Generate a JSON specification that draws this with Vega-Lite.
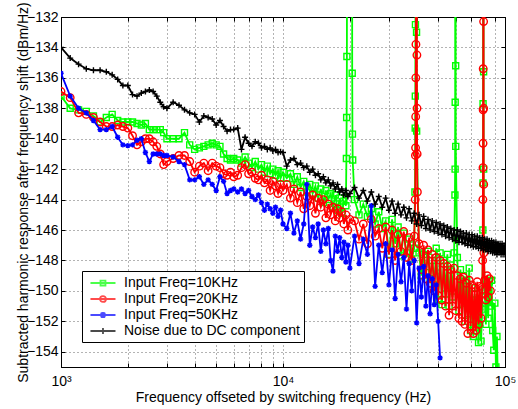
{
  "$schema": "https://vega.github.io/schema/vega-lite/v6.json",
  "width": 444,
  "height": 350,
  "autosize": {"type": "none"},
  "padding": {"left": 61, "top": 17, "right": 13, "bottom": 42},
  "background": "white",
  "config": {
    "font": "Liberation Sans",
    "view": {"stroke": "black", "strokeWidth": 1},
    "axis": {
      "labelFont": "Liberation Sans", "labelFontSize": 14, "labelColor": "black",
      "titleFont": "Liberation Sans", "titleFontSize": 14, "titleFontWeight": "normal", "titleColor": "black",
      "domainColor": "black", "tickColor": "black", "tickWidth": 1,
      "gridColor": "#666", "gridDash": [1, 3], "gridOpacity": 1, "gridWidth": 1
    }
  },
  "data": {
    "values": [
      {"f":1000,"g":-137.2,"r":-136.9,"b":-135.7,"k":-134.0},
      {"f":1100,"g":-138.0,"r":-137.3,"b":-137.2,"k":-134.7},
      {"f":1200,"g":-138.1,"r":-138.3,"b":-138.0,"k":-135.1},
      {"f":1300,"g":-138.2,"r":-138.4,"b":-138.3,"k":-135.4},
      {"f":1400,"g":-138.5,"r":-138.6,"b":-138.8,"k":-135.5},
      {"f":1500,"g":-138.9,"r":-138.9,"b":-139.4,"k":-135.5},
      {"f":1600,"g":-138.6,"r":-139.2,"b":-139.4,"k":-135.6},
      {"f":1700,"g":-138.4,"r":-139.2,"b":-139.2,"k":-135.8},
      {"f":1800,"g":-138.8,"r":-139.1,"b":-139.9,"k":-136.1},
      {"f":1900,"g":-138.9,"r":-139.2,"b":-140.4,"k":-136.5},
      {"f":2000,"g":-138.9,"r":-139.3,"b":-140.45,"k":-136.5},
      {"f":2100,"g":-138.9,"r":-139.8,"b":-140.4,"k":-137.1},
      {"f":2200,"g":-139.0,"r":-140.4,"b":-140.1,"k":-137.2},
      {"f":2300,"g":-139.1,"r":-140.2,"b":-140.0,"k":-137.0},
      {"f":2400,"g":-139.0,"r":-140.0,"b":-140.9,"k":-136.9},
      {"f":2500,"g":-139.4,"r":-140.0,"b":-141.5,"k":-136.8},
      {"f":2600,"g":-139.4,"r":-140.2,"b":-141.0,"k":-136.9},
      {"f":2700,"g":-139.4,"r":-140.5,"b":-141.0,"k":-137.2},
      {"f":2800,"g":-139.4,"r":-141.0,"b":-141.0,"k":-137.6},
      {"f":2900,"g":-139.6,"r":-141.7,"b":-141.1,"k":-137.9},
      {"f":3000,"g":-140.0,"r":-141.5,"b":-141.1,"k":-138.0},
      {"f":3200,"g":-140.0,"r":-141.3,"b":-141.2,"k":-137.6},
      {"f":3400,"g":-140.0,"r":-141.1,"b":-141.5,"k":-137.8},
      {"f":3600,"g":-139.6,"r":-141.1,"b":-141.7,"k":-138.1},
      {"f":3800,"g":-140.4,"r":-141.5,"b":-142.7,"k":-138.3},
      {"f":4000,"g":-140.7,"r":-142.2,"b":-142.7,"k":-138.4},
      {"f":4200,"g":-140.6,"r":-141.8,"b":-142.5,"k":-138.9},
      {"f":4400,"g":-140.5,"r":-141.6,"b":-143.0,"k":-138.5},
      {"f":4600,"g":-140.4,"r":-142.1,"b":-142.7,"k":-138.6},
      {"f":4800,"g":-140.3,"r":-141.6,"b":-143.0,"k":-138.7},
      {"f":5000,"g":-140.4,"r":-141.8,"b":-143.4,"k":-139.1},
      {"f":5200,"g":-140.5,"r":-141.9,"b":-142.5,"k":-138.8},
      {"f":5400,"g":-141.0,"r":-142.3,"b":-142.8,"k":-139.2},
      {"f":5600,"g":-141.3,"r":-142.4,"b":-143.6,"k":-139.5},
      {"f":5800,"g":-141.4,"r":-142.2,"b":-143.4,"k":-139.4},
      {"f":6000,"g":-141.3,"r":-142.5,"b":-143.3,"k":-139.4},
      {"f":6250,"g":-141.4,"r":-142.4,"b":-143.5,"k":-139.3},
      {"f":6500,"g":-141.6,"r":-141.9,"b":-143.3,"k":-140.7},
      {"f":6750,"g":-141.2,"r":-141.7,"b":-143.6,"k":-139.9},
      {"f":7000,"g":-141.6,"r":-142.3,"b":-143.4,"k":-140.3},
      {"f":7250,"g":-141.9,"r":-142.2,"b":-143.8,"k":-140.5},
      {"f":7500,"g":-141.5,"r":-142.6,"b":-144.0,"k":-140.2},
      {"f":7750,"g":-142.0,"r":-142.7,"b":-143.7,"k":-140.3},
      {"f":8000,"g":-141.7,"r":-142.4,"b":-144.2,"k":-140.6},
      {"f":8250,"g":-142.2,"r":-142.9,"b":-144.7,"k":-140.5},
      {"f":8500,"g":-141.8,"r":-142.7,"b":-144.3,"k":-140.7},
      {"f":8750,"g":-142.3,"r":-143.4,"b":-144.6,"k":-140.6},
      {"f":9000,"g":-142.0,"r":-142.8,"b":-144.9,"k":-140.8},
      {"f":9250,"g":-142.4,"r":-143.1,"b":-144.5,"k":-140.7},
      {"f":9500,"g":-142.1,"r":-143.6,"b":-145.1,"k":-140.9},
      {"f":9750,"g":-142.6,"r":-143.0,"b":-144.7,"k":-140.85},
      {"f":10000,"g":-142.2,"r":-143.4,"b":-145.6,"k":-140.9},
      {"f":10400,"g":-142.6,"r":-143.0,"b":-145.9,"k":-141.8},
      {"f":10800,"g":-142.3,"r":-143.9,"b":-144.9,"k":-141.4},
      {"f":11200,"g":-143.0,"r":-143.3,"b":-146.2,"k":-141.3},
      {"f":11600,"g":-142.5,"r":-144.2,"b":-145.4,"k":-141.7},
      {"f":12000,"g":-143.2,"r":-143.5,"b":-146.6,"k":-141.6},
      {"f":12400,"g":-142.8,"r":-144.6,"b":-145.6,"k":-141.9},
      {"f":12800,"g":-143.5,"r":-143.8,"b":-143.0,"k":-141.8},
      {"f":13200,"g":-143.0,"r":-144.4,"b":-147.0,"k":-142.2},
      {"f":13600,"g":-143.6,"r":-143.7,"b":-145.8,"k":-142.0},
      {"f":14000,"g":-143.1,"r":-144.9,"b":-146.5,"k":-142.4},
      {"f":14400,"g":-143.9,"r":-143.9,"b":-145.6,"k":-142.3},
      {"f":14800,"g":-143.3,"r":-144.5,"b":-147.4,"k":-142.7},
      {"f":15200,"g":-144.2,"r":-144.0,"b":-146.0,"k":-142.5},
      {"f":15600,"g":-143.4,"r":-145.2,"b":-146.9,"k":-142.9},
      {"f":16000,"g":-144.0,"r":-144.3,"b":-145.9,"k":-142.7},
      {"f":16400,"g":-143.6,"r":-145.0,"b":-148.0,"k":-143.1},
      {"f":16800,"g":-144.5,"r":-144.5,"b":-148.7,"k":-142.9},
      {"f":17200,"g":-143.7,"r":-145.4,"b":-146.4,"k":-143.3},
      {"f":17600,"g":-144.7,"r":-144.6,"b":-147.4,"k":-143.0},
      {"f":18000,"g":-143.9,"r":-145.2,"b":-146.5,"k":-143.5},
      {"f":18400,"g":-144.9,"r":-144.8,"b":-147.8,"k":-143.3},
      {"f":18800,"g":-144.1,"r":-145.6,"b":-146.8,"k":-143.7},
      {"f":19200,"g":-144.4,"r":-145.0,"b":-148.1,"k":-143.4},
      {"f":19300,"g":-141.3},
      {"f":19350,"g":-138.6},
      {"f":19400,"g":-134.6},
      {"f":19450,"g":-115},
      {"f":19600,"g":-115,"r":-146.0,"b":-147.0,"k":-143.8},
      {"f":20000,"g":-115,"r":-145.3,"b":-148.5,"k":-143.6},
      {"f":20450,"g":-115},
      {"f":20500,"g":-135.7},
      {"f":20550,"g":-139.7},
      {"f":20600,"g":-141.4},
      {"f":21000,"g":-144.0,"r":-145.4,"b":-146.4,"k":-143.2},
      {"f":22000,"g":-145.0,"r":-146.6,"b":-148.2,"k":-143.9},
      {"f":23000,"g":-144.3,"r":-145.6,"b":-146.6,"k":-143.4},
      {"f":24000,"g":-145.1,"r":-146.9,"b":-147.6,"k":-144.1},
      {"f":25000,"g":-144.6,"r":-145.3,"b":-144.4,"k":-143.5},
      {"f":26000,"g":-145.6,"r":-146.4,"b":-149.7,"k":-144.3},
      {"f":27000,"g":-144.8,"r":-145.9,"b":-147.0,"k":-143.8},
      {"f":28000,"g":-145.9,"r":-147.2,"b":-148.8,"k":-144.5},
      {"f":29000,"g":-145.4,"r":-145.8,"b":-146.9,"k":-143.9},
      {"f":30000,"g":-147.6,"r":-147.6,"b":-149.6,"k":-144.7},
      {"f":31000,"g":-145.3,"r":-146.0,"b":-147.3,"k":-144.1},
      {"f":32000,"g":-146.9,"r":-148.0,"b":-150.5,"k":-144.9},
      {"f":33000,"g":-145.8,"r":-146.3,"b":-147.6,"k":-144.3},
      {"f":34000,"g":-147.7,"r":-147.4,"b":-149.4,"k":-145.0},
      {"f":35000,"g":-146.2,"r":-146.1,"b":-147.8,"k":-144.5},
      {"f":36000,"g":-147.5,"r":-147.8,"b":-151.2,"k":-145.2},
      {"f":37000,"g":-146.6,"r":-146.5,"b":-148.2,"k":-144.6},
      {"f":38000,"g":-147.9,"r":-148.0,"b":-150.0,"k":-145.4},
      {"f":39000,"g":-147.2,"r":-146.4,"b":-148.0,"k":-144.9},
      {"f":39300,"g":-143.5},
      {"f":39400,"g":-139.3,"r":-144.0},
      {"f":39450,"g":-137.2},
      {"f":39500,"g":-132.5,"r":-141.1},
      {"f":39550,"g":-115,"r":-140.6},
      {"f":39600,"r":-138.55},
      {"f":39650,"r":-136.0},
      {"f":39700,"r":-133.8},
      {"f":39750,"r":-115},
      {"f":39900,"g":-115},
      {"f":39950,"g":-133.0},
      {"f":40000,"g":-139.5,"r":-115,"b":-152.1,"k":-145.6},
      {"f":40100,"r":-134.5},
      {"f":40150,"r":-138.0},
      {"f":40200,"r":-141.0},
      {"f":40300,"r":-143.5},
      {"f":41000,"g":-147.5,"r":-146.9,"b":-148.5,"k":-145.0},
      {"f":42000,"g":-149.0,"r":-148.6,"b":-150.4,"k":-145.7},
      {"f":43000,"g":-147.6,"r":-147.0,"b":-148.4,"k":-145.1},
      {"f":44000,"g":-148.8,"r":-149.2,"b":-151.0,"k":-145.9},
      {"f":45000,"g":-147.4,"r":-147.3,"b":-149.0,"k":-145.3},
      {"f":46000,"g":-149.2,"r":-149.5,"b":-151.5,"k":-146.0},
      {"f":47000,"g":-148.0,"r":-147.6,"b":-149.2,"k":-145.4},
      {"f":48000,"g":-149.6,"r":-150.0,"b":-150.9,"k":-146.1},
      {"f":49000,"g":-147.2,"r":-147.8,"b":-149.6,"k":-145.5},
      {"f":50000,"g":-150.6,"r":-150.3,"b":-152.0,"k":-146.2},
      {"f":51000,"g":-147.5,"r":-148.0,"b":-154.4,"k":-145.6},
      {"f":52000,"g":-150.9,"r":-150.6,"k":-146.3},
      {"f":53000,"g":-148.0,"r":-148.2,"k":-145.7},
      {"f":54000,"g":-150.2,"r":-151.0,"k":-146.4},
      {"f":55000,"g":-147.6,"r":-148.4,"k":-145.8},
      {"f":56000,"g":-151.0,"r":-151.6,"k":-146.5},
      {"f":57000,"g":-148.3,"r":-148.6,"k":-145.9},
      {"f":58000,"g":-150.4,"r":-151.0,"k":-146.6},
      {"f":59000,"g":-147.5,"r":-148.5,"k":-146.0},
      {"f":59500,"g":-143.7},
      {"f":59600,"g":-142.0},
      {"f":59650,"g":-137.6},
      {"f":59700,"g":-115},
      {"f":59900,"g":-115},
      {"f":59950,"g":-135.2},
      {"f":60000,"g":-140.5,"r":-151.3,"k":-146.7},
      {"f":61000,"g":-147.8,"r":-149.0,"k":-146.0},
      {"f":62000,"g":-151.3,"r":-151.8,"k":-146.8},
      {"f":63000,"g":-148.6,"r":-149.2,"k":-146.1},
      {"f":64000,"g":-150.8,"r":-152.0,"k":-146.8},
      {"f":65000,"g":-149.0,"r":-149.1,"k":-146.2},
      {"f":66000,"g":-152.0,"r":-152.2,"k":-146.9},
      {"f":67000,"g":-149.3,"r":-149.5,"k":-146.2},
      {"f":68000,"g":-151.5,"r":-152.8,"k":-147.0},
      {"f":69000,"g":-148.5,"r":-149.3,"k":-146.3},
      {"f":70000,"g":-152.6,"r":-152.3,"k":-147.0},
      {"f":71000,"g":-149.8,"r":-149.6,"k":-146.3},
      {"f":72000,"g":-153.0,"r":-152.8,"k":-147.1},
      {"f":73000,"g":-150.2,"r":-149.8,"k":-146.4},
      {"f":74000,"g":-152.4,"r":-152.6,"k":-147.1},
      {"f":75000,"g":-150.6,"r":-149.4,"k":-146.4},
      {"f":76000,"g":-153.4,"r":-152.2,"k":-147.2},
      {"f":77000,"g":-151.0,"r":-149.7,"k":-146.5},
      {"f":78000,"g":-153.3,"r":-151.8,"k":-147.2},
      {"f":79000,"g":-151.2,"r":-149.9,"k":-146.5},
      {"f":79300,"r":-148.0},
      {"f":79500,"g":-146.0,"r":-144.0},
      {"f":79600,"g":-142.9,"r":-141.9},
      {"f":79650,"g":-137.7,"r":-140.3},
      {"f":79700,"g":-115,"r":-138.1},
      {"f":79750,"r":-135.4},
      {"f":79800,"r":-115},
      {"f":80000,"g":-115,"r":-115,"k":-147.3},
      {"f":80100,"g":-135.6,"r":-132.3},
      {"f":80150,"g":-142.0,"r":-138.0},
      {"f":80200,"g":-147.0,"r":-143.0},
      {"f":80300,"r":-147.5},
      {"f":81000,"g":-150.0,"r":-149.3,"k":-146.6},
      {"f":82000,"g":-152.2,"r":-150.6,"k":-147.3},
      {"f":83000,"g":-149.6,"r":-149.0,"k":-146.6},
      {"f":84000,"g":-151.8,"r":-150.4,"k":-147.4},
      {"f":85000,"g":-149.4,"r":-149.2,"k":-146.7},
      {"f":86000,"g":-151.0,"r":-150.0,"k":-147.4},
      {"f":87000,"g":-149.3,"k":-146.7},
      {"f":88000,"g":-152.6,"k":-147.5},
      {"f":89000,"g":-153.9,"k":-146.8},
      {"f":90000,"g":-150.8,"k":-147.5},
      {"f":91000,"g":-155.0,"k":-146.8},
      {"f":92000,"g":-153.0,"k":-147.6},
      {"f":93000,"g":-156.5,"k":-146.9},
      {"f":94000,"k":-147.5},
      {"f":95000,"k":-146.9},
      {"f":96000,"k":-147.6},
      {"f":97000,"k":-146.9},
      {"f":98000,"k":-147.6},
      {"f":99000,"k":-147.0},
      {"f":100000,"k":-147.6}
    ]
  },
  "transform": [
    {"fold": ["g", "r", "b", "k"], "as": ["s", "v"]},
    {"filter": "isValid(datum.v)"}
  ],
  "encoding": {
    "x": {"field": "f", "type": "quantitative", "scale": {"type": "log", "domain": [1000, 100000], "nice": false}, "axis": null},
    "y": {"field": "v", "type": "quantitative", "scale": {"domain": [-155, -132], "nice": false, "zero": false}, "axis": null}
  },
  "layer": [
    {
      "transform": [{"filter": "datum.s == 'g'"}],
      "mark": {"type": "line", "clip": true, "color": "#00ff00", "strokeWidth": 1.8,
        "point": {"filled": false, "color": "#00ff00", "size": 36, "strokeWidth": 1.4, "shape": "M-1,-1H1V1H-1Z"}},
      "encoding": {
        "x": {"field": "f", "type": "quantitative", "scale": {"type": "log", "domain": [1000, 100000], "nice": false},
          "axis": {"orient": "bottom", "title": "Frequency offseted by switching frequency (Hz)",
            "values": [1000,2000,3000,4000,5000,6000,7000,8000,9000,10000,20000,30000,40000,50000,60000,70000,80000,90000,100000],
            "labelExpr": "datum.value == 1000 ? '10³' : datum.value == 10000 ? '10⁴' : datum.value == 100000 ? '10⁵' : ''",
            "grid": true, "tickSize": -4, "labelPadding": 11, "titlePadding": 2, "labelFlush": false}},
        "y": {"field": "v", "type": "quantitative", "scale": {"domain": [-155, -132], "nice": false, "zero": false},
          "axis": {"orient": "left", "title": "Subtracted harmonic response after frequency shift (dBm/Hz)",
            "values": [-154,-152,-150,-148,-146,-144,-142,-140,-138,-136,-134,-132],
            "grid": true, "tickSize": -4, "labelPadding": 7, "titlePadding": -4}}
      }
    },
    {
      "transform": [{"filter": "datum.s == 'r'"}],
      "mark": {"type": "line", "clip": true, "color": "#ff0000", "strokeWidth": 1.8,
        "point": {"filled": false, "color": "#ff0000", "size": 36, "strokeWidth": 1.4, "shape": "M-1.25,0A1.25,1.25 0 1,0 1.25,0A1.25,1.25 0 1,0 -1.25,0"}},
      "encoding": {
        "x": {"field": "f", "type": "quantitative", "scale": {"type": "log", "domain": [1000, 100000], "nice": false},
          "axis": {"orient": "top", "title": null, "labels": false, "grid": false, "tickSize": -4,
            "values": [1000,2000,3000,4000,5000,6000,7000,8000,9000,10000,20000,30000,40000,50000,60000,70000,80000,90000,100000]}},
        "y": {"field": "v", "type": "quantitative", "scale": {"domain": [-155, -132], "nice": false, "zero": false},
          "axis": {"orient": "right", "title": null, "labels": false, "grid": false, "tickSize": -4,
            "values": [-154,-152,-150,-148,-146,-144,-142,-140,-138,-136,-134,-132]}}
      }
    },
    {
      "transform": [{"filter": "datum.s == 'b'"}],
      "mark": {"type": "line", "clip": true, "color": "#0000ff", "strokeWidth": 1.8,
        "point": {"filled": false, "color": "#0000ff", "size": 36, "strokeWidth": 1.4, "shape": "M-0.9,0H0.9M0,-0.9V0.9M-0.65,-0.65L0.65,0.65M-0.65,0.65L0.65,-0.65"}}
    },
    {
      "transform": [{"filter": "datum.s == 'k'"}],
      "mark": {"type": "line", "clip": true, "color": "#000000", "strokeWidth": 1.8,
        "point": {"filled": false, "color": "#000000", "size": 36, "strokeWidth": 1.4, "shape": "M-1,0H1M0,-1V1"}}
    },
    {
      "transform": [{"filter": "datum.f == 1000"}],
      "mark": {"type": "point", "filled": false, "clip": true, "strokeWidth": 1.8},
      "encoding": {
        "x": {"datum": 1000, "type": "quantitative"},
        "y": {"datum": -300, "type": "quantitative"},
        "color": {"field": "s", "type": "nominal",
          "scale": {"domain": ["g", "r", "b", "k"], "range": ["#00ff00", "#ff0000", "#0000ff", "#000000"]},
          "legend": {"title": null, "orient": "none", "legendX": 21, "legendY": 254,
            "fillColor": "white", "strokeColor": "black", "padding": 4,
            "symbolSize": 200, "symbolStrokeWidth": 1.8, "rowPadding": 1, "labelOffset": 22, "labelLimit": 400,
            "labelFont": "Liberation Sans", "labelFontSize": 14, "labelColor": "black",
            "labelExpr": "{'g': 'Input Freq=10KHz', 'r': 'Input Freq=20KHz', 'b': 'Input Freq=50KHz', 'k': 'Noise due to DC component'}[datum.label]"}},
        "shape": {"field": "s", "type": "nominal",
          "scale": {"domain": ["g", "r", "b", "k"], "range": [
            "M-0.5,0H3.04M0.92,-0.35H1.62V0.35H0.92Z",
            "M-0.5,0H3.04M0.85,0A0.42,0.42 0 1,0 1.69,0A0.42,0.42 0 1,0 0.85,0",
            "M-0.5,0H3.04M0.95,-0.32L1.59,0.32M0.95,0.32L1.59,-0.32M1.27,-0.42V0.42",
            "M-0.5,0H3.04M1.27,-0.42V0.42"]},
          "legend": {"title": null, "orient": "none", "legendX": 21, "legendY": 254, "labelLimit": 400,
            "labelExpr": "{'g': 'Input Freq=10KHz', 'r': 'Input Freq=20KHz', 'b': 'Input Freq=50KHz', 'k': 'Noise due to DC component'}[datum.label]"}}
      }
    }
  ],
  "resolve": {
    "scale": {"color": "independent", "shape": "independent"},
    "axis": {"x": "independent", "y": "independent"}
  }
}
